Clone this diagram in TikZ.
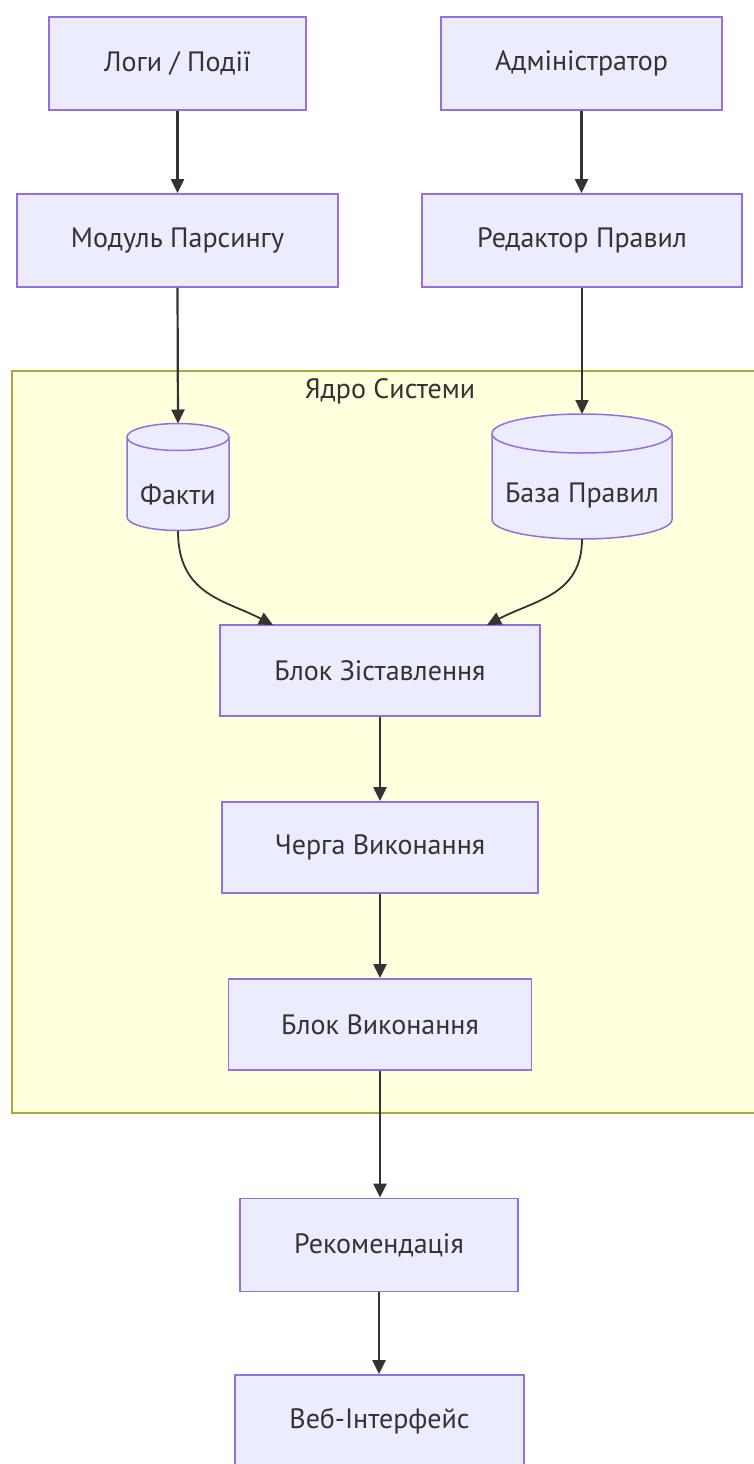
\documentclass[tikz,border=0pt]{standalone}
\usepackage{fontspec}
\setmainfont{PT Sans}
\usetikzlibrary{arrows.meta}
\definecolor{nodefill}{HTML}{ECECFF}
\definecolor{nodestroke}{HTML}{9370DB}
\definecolor{sgfill}{HTML}{FFFFDE}
\definecolor{sgstroke}{HTML}{AAAA33}
\definecolor{txt}{HTML}{333333}
\definecolor{edge}{HTML}{333333}
\begin{document}
\begin{tikzpicture}[x=1pt,y=-1pt,
  box/.style={draw=nodestroke,fill=nodefill,line width=1.8pt,rectangle,inner sep=0pt,
    text=txt,font=\fontsize{28}{32}\selectfont},
  lbl/.style={text=txt,font=\fontsize{28}{32}\selectfont,inner sep=0pt},
  cyl/.style={draw=nodestroke,fill=nodefill,line width=1.5pt},
  conn/.style={draw=edge,line width=2.2pt,-{Triangle[length=14pt,width=13pt]}},
  curv/.style={draw=edge,line width=1.8pt,-{Triangle[length=14pt,width=13pt]}}
]
\useasboundingbox (0,0) rectangle (754,1464);
\clip (0,0) rectangle (754,1464);
\fill[white] (0,0) rectangle (754,1464);
% subgraph
\draw[fill=sgfill,draw=sgstroke,line width=1.5pt] (12,371) rectangle (780,1113);
\node[lbl] (sgtitle) at (390,391) {Ядро Системи};
% top nodes
\node[box,minimum width=257pt,minimum height=93pt] (logs) at (177.5,63.5) {Логи / Події};
\node[box,minimum width=281pt,minimum height=93pt] (admin) at (581.5,63.5) {Адміністратор};
\node[box,minimum width=321pt,minimum height=93pt] (pars) at (177.5,240.5) {Модуль Парсингу};
\node[box,minimum width=320pt,minimum height=93pt] (edit) at (582,240.5) {Редактор Правил};
% cylinders
\draw[cyl] (127,437) -- (127,517) arc[start angle=180,end angle=0,x radius=51,y radius=13.5] -- (229,437)
  arc[start angle=0,end angle=-180,x radius=51,y radius=13.5];
\draw[cyl] (127,437) arc[start angle=180,end angle=0,x radius=51,y radius=13.5];
\node[lbl] (facts) at (178,495) {Факти};
\coordinate (factsT) at (178,423.5);
\coordinate (factsB) at (178,531);
\draw[cyl] (492,433.5) -- (492,519.5) arc[start angle=180,end angle=0,x radius=90,y radius=19.5] -- (672,433.5)
  arc[start angle=0,end angle=-180,x radius=90,y radius=19.5];
\draw[cyl] (492,433.5) arc[start angle=180,end angle=0,x radius=90,y radius=19.5];
\node[lbl] (rules) at (582,495) {База Правил};
\coordinate (rulesT) at (582,414);
\coordinate (rulesB) at (582,539);
% core
\node[box,minimum width=320pt,minimum height=91pt] (match) at (380,670.5) {Блок Зіставлення};
\node[box,minimum width=316pt,minimum height=91pt] (queue) at (380,847.5) {Черга Виконання};
\node[box,minimum width=303pt,minimum height=91pt] (exec) at (380,1024.5) {Блок Виконання};
% bottom
\node[box,minimum width=278pt,minimum height=93pt] (rec) at (379,1245) {Рекомендація};
\node[box,minimum width=289pt,minimum height=93pt] (web) at (379.5,1421.5) {Веб-Інтерфейс};
% connectors
\draw[conn] (logs.south) -- (pars.north);
\draw[conn] (admin.south) -- (edit.north -| admin.south);
\draw[conn] (pars.south) -- (factsT);
\draw[conn] (edit.south) -- (rulesT);
\draw[curv] (factsB) .. controls (178,595) and (225,600) .. (273,625);
\draw[curv] (rulesB) .. controls (582,595) and (535,600) .. (487,625);
\draw[conn] (match.south) -- (queue.north);
\draw[conn] (queue.south) -- (exec.north);
\draw[conn] (exec.south) -- (rec.north -| exec.south);
\draw[conn] (rec.south) -- (web.north -| rec.south);
\end{tikzpicture}
\end{document}
